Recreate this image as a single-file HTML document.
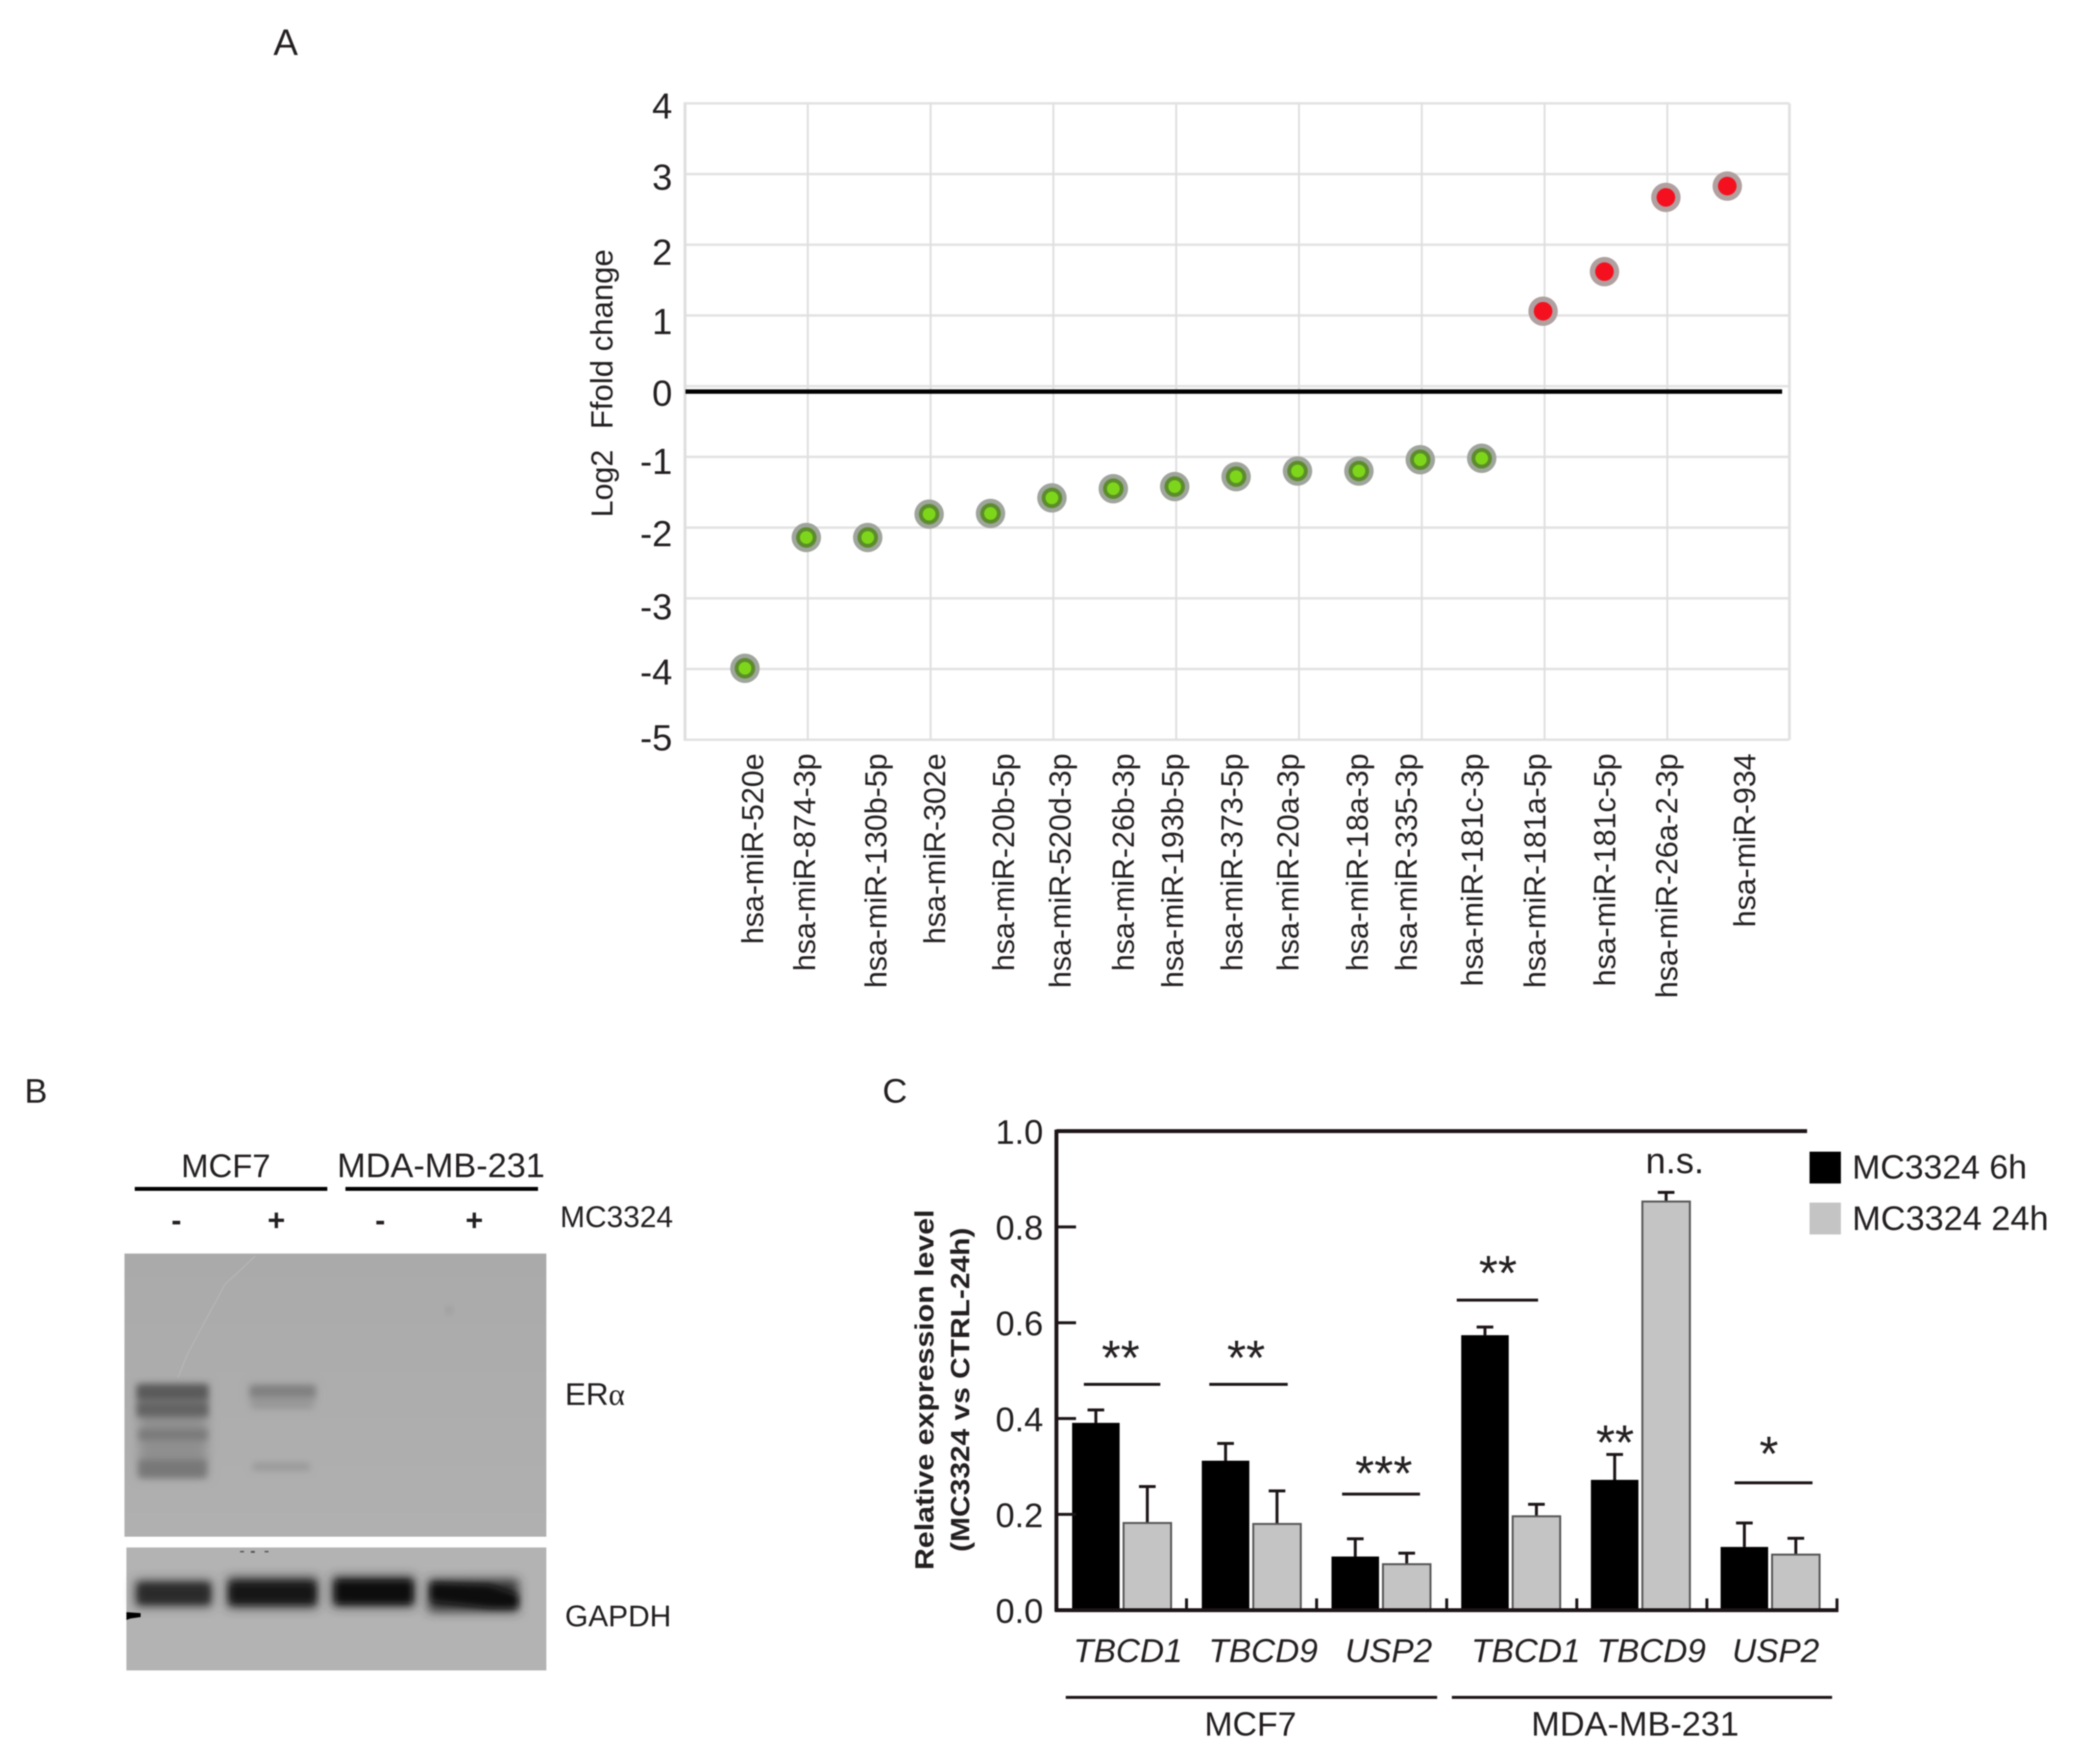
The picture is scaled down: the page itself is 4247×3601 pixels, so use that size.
<!DOCTYPE html>
<html lang="en">
<head>
<meta charset="utf-8">
<title>miRNA fold change, western blot and relative expression</title>
<style>
html,body{margin:0;padding:0;background:#fff;}
#figure{display:block;width:4247px;height:3601px;filter:blur(1.4px);}
text{font-family:"Liberation Sans",sans-serif;fill:#231f20;}
</style>
</head>
<body>
<svg id="figure" xmlns="http://www.w3.org/2000/svg" width="4247" height="3601" viewBox="0 0 4247 3601">
<defs>
<filter id="blur3" x="-20%" y="-80%" width="140%" height="260%"><feGaussianBlur stdDeviation="7"/></filter>
<filter id="blur6" x="-20%" y="-80%" width="140%" height="260%"><feGaussianBlur stdDeviation="11"/></filter>
<linearGradient id="blot-bg" x1="0" y1="0" x2="0" y2="1"><stop offset="0" stop-color="#aaaaaa"/><stop offset="1" stop-color="#b0b0b0"/></linearGradient>
</defs>

<text x="558" y="112" font-size="75">A</text>
<text x="50" y="2251" font-size="70">B</text>
<text x="1801" y="2251" font-size="70">C</text>

<g id="chart-a"></g>

<g id="panel-b">
  <text x="461" y="2403" font-size="67" text-anchor="middle">MCF7</text>
  <text x="900" y="2403" font-size="70" text-anchor="middle">MDA-MB-231</text>
  <rect x="275" y="2423" width="393" height="8" fill="#000"/>
  <rect x="705" y="2423" width="393" height="8" fill="#000"/>
  <text x="360" y="2512" font-size="62" font-weight="bold" text-anchor="middle">-</text>
  <text x="564" y="2512" font-size="62" font-weight="bold" text-anchor="middle">+</text>
  <text x="776" y="2512" font-size="62" font-weight="bold" text-anchor="middle">-</text>
  <text x="968" y="2512" font-size="62" font-weight="bold" text-anchor="middle">+</text>
  <text x="1143" y="2505" font-size="61">MC3324</text>

  <g>
    <rect x="254" y="2559" width="861" height="578" fill="url(#blot-bg)"/>
    <path d="M521 2564 L459 2622 L383 2763 L363 2813" fill="none" stroke="#b8b8b8" stroke-width="2"/>
    <g filter="url(#blur6)">
      <rect x="283" y="2826" width="140" height="190" fill="#868686" opacity=".75"/>
      <rect x="512" y="2828" width="130" height="44" fill="#979797" opacity=".7"/>
    </g>
    <g filter="url(#blur3)">
      <rect x="279" y="2826" width="146" height="32" fill="#5a5a5a"/>
      <rect x="279" y="2862" width="146" height="30" fill="#636363"/>
      <rect x="283" y="2918" width="140" height="22" fill="#7a7a7a"/>
      <rect x="283" y="2980" width="138" height="36" fill="#787878"/>
      <rect x="510" y="2828" width="134" height="24" fill="#808080"/>
      <rect x="514" y="2856" width="124" height="18" fill="#979797"/>
      <rect x="516" y="2986" width="116" height="16" fill="#999"/>
    </g>
    <circle cx="917" cy="2675" r="8" fill="#9c9c9c" filter="url(#blur3)"/>
  </g>
  <g>
    <rect x="258" y="3159" width="857" height="251" fill="#b3b3b3"/>
    <g filter="url(#blur6)">
      <rect x="276" y="3226" width="156" height="54" fill="#4a4a4a"/>
      <rect x="464" y="3220" width="184" height="62" fill="#363636"/>
      <rect x="678" y="3218" width="168" height="62" fill="#303030"/>
      <rect x="874" y="3224" width="184" height="66" fill="#303030"/>
    </g>
    <g filter="url(#blur3)">
      <rect x="283" y="3234" width="144" height="38" fill="#2a2a2a"/>
      <rect x="470" y="3232" width="172" height="40" fill="#181818"/>
      <rect x="686" y="3228" width="154" height="44" fill="#101010"/>
      <polygon points="880,3232 1000,3236 1056,3256 1056,3282 1000,3282 880,3268" fill="#101010"/>
    </g>
    <polygon points="258,3291 287,3293 287,3301 266,3304 258,3307" fill="#000"/>
    <g fill="#555">
      <rect x="490" y="3166" width="8" height="3"/><rect x="512" y="3166" width="8" height="4"/><rect x="540" y="3166" width="8" height="3"/>
    </g>
  </g>
  <text x="1153" y="2868" font-size="64">ER<tspan font-family="Liberation Serif, serif">α</tspan></text>
  <text x="1153" y="3320" font-size="61">GAPDH</text>
</g>

<g id="chart-c"></g>
</svg>

<script>
/* ---------- Chart A data ---------- */
const mirCategories = ["hsa-miR-520e","hsa-miR-874-3p","hsa-miR-130b-5p","hsa-miR-302e","hsa-miR-20b-5p","hsa-miR-520d-3p","hsa-miR-26b-3p","hsa-miR-193b-5p","hsa-miR-373-5p","hsa-miR-20a-3p","hsa-miR-18a-3p","hsa-miR-335-3p","hsa-miR-181c-3p","hsa-miR-181a-5p","hsa-miR-181c-5p","hsa-miR-26a-2-3p","hsa-miR-934"];
const log2FoldChange = [-3.99,-2.14,-2.14,-1.81,-1.80,-1.58,-1.45,-1.42,-1.28,-1.20,-1.20,-1.04,-1.02,1.06,1.62,2.67,2.83];
const foldTicks = [4,3,2,1,0,-1,-2,-3,-4,-5];

/* ---------- Chart C data ---------- */
const geneLabels = ["TBCD1","TBCD9","USP2","TBCD1","TBCD9","USP2"];
const expression6h = [0.391,0.312,0.112,0.574,0.272,0.132];
const expression24h = [0.182,0.180,0.096,0.196,0.853,0.116];
const error6h = [0.027,0.036,0.037,0.017,0.053,0.050];
const error24h = [0.076,0.069,0.023,0.025,0.019,0.034];
const expressionTicks = [0,0.2,0.4,0.6,0.8,1.0];

/* ---------- Layout only (hand-set label drift of the source figure) ---------- */
const catLabelNudge = [12,-7,13,8,23,13,17,-8,-12,-23,-7,-32,-23,-20,-3,-2,32];
const foldLabelNudge = [5,6,15,12,14,9,12,17,6,-4];
const geneLabelCentres = [2300,2576,2832,3112,3368,3622];

const NS = "http://www.w3.org/2000/svg";
function mk(tag, attrs, parent, txt){
  const el = document.createElementNS(NS, tag);
  for (const k in attrs) el.setAttribute(k, attrs[k]);
  if (txt !== undefined) el.textContent = txt;
  parent.appendChild(el);
  return el;
}

/* ---------- Chart A ---------- */
(function(){
  const g = document.getElementById("chart-a");
  const L = 1395, R = 3652, T = 211, B = 1510, step = 125.3;
  const y = v => T + (4 - v) * (B - T) / 9;
  const x = i => L + (i + 1) * step;

  foldTicks.forEach(function(t){
    const ln = mk("line",{x1:L,x2:R,y1:y(t),y2:y(t),stroke:"#e2e2e2","stroke-width":5},g);
    
    
  });
  for (let i = -1; i < mirCategories.length; i += 2){
    const ln = mk("line",{x1:x(i)+3,x2:x(i)+3,y1:T,y2:B,stroke:"#dfdfdf","stroke-width":i===-1?6:4},g);
    
    
  }
  const right = mk("line",{x1:R,x2:R,y1:T,y2:B,stroke:"#e2e2e2","stroke-width":6},g);
  
  

  const zero = mk("line",{x1:1399,x2:3637,y1:y(0)+11,y2:y(0)+11,stroke:"#000","stroke-width":9},g);
  
  

  foldTicks.forEach(function(t,i){
    const lab = mk("text",{x:1372,y:y(t)+foldLabelNudge[i]+26,"font-size":74,"text-anchor":"end"},g,String(t));
    
    
  });

  const log2 = mk("text",{transform:"translate(1250,1056) rotate(-90)","font-size":62},g,"Log2");
  
  
  const ffold = mk("text",{transform:"translate(1250,876) rotate(-90)","font-size":63.5},g,"Ffold change");
  
  

  mirCategories.forEach(function(c,i){
    const px = x(i) + catLabelNudge[i] + 25;
    const lab = mk("text",{transform:"translate("+px+",1538) rotate(-90)","font-size":62,"text-anchor":"end"},g,c);
    
    
  });

  log2FoldChange.forEach(function(v,i){
    const up = v > 0;
    const pt = mk("g",{},g);
    
    
    mk("circle",{cx:x(i),cy:y(v),r:30,fill:up?"#b0a0a0":"#9fa59c"},pt);
    if (up){
      mk("circle",{cx:x(i),cy:y(v),r:19,fill:"#f5101f"},pt);
    } else {
      mk("circle",{cx:x(i),cy:y(v),r:21,fill:"#5c8c2c"},pt);
      mk("circle",{cx:x(i),cy:y(v),r:13,fill:"#7ed61a"},pt);
    }
  });
})();

/* ---------- Chart C ---------- */
(function(){
  const g = document.getElementById("chart-c");
  const axisX = 2156, endX = 3749, y0 = 3287, y1 = 2309;
  const groupStart = i => 2188 + i * 264.7;
  const y = v => y0 - v * (y0 - y1);
  const barW = 97, ink = "#1c1416";

  drawBars(expression6h, error6h, 0, "#000", "#000", "bar-6h");
  drawBars(expression24h, error24h, 105, "#c4c4c4", "#555", "bar-24h");

  function drawBars(vals, errs, off, fill, edge, name){
    vals.forEach(function(v,i){
      const cx = groupStart(i) + off + barW/2;
      const err = mk("path",{d:"M"+cx+" "+y(v)+"V"+y(v+errs[i])+"M"+(cx-17)+" "+y(v+errs[i])+"H"+(cx+17),stroke:ink,"stroke-width":6,fill:"none"},g);
      
      
      const b = mk("rect",{x:groupStart(i)+off,y:y(v),width:barW,height:y(0)-y(v),fill:fill,stroke:edge,"stroke-width":edge==="#000"?0:4},g);
      
      
    });
  }

  const yAxis = mk("line",{x1:axisX,x2:axisX,y1:y1-3,y2:y0+3,stroke:ink,"stroke-width":8},g);
  
  
  const xAxis = mk("line",{x1:axisX-3,x2:endX+3,y1:y0,y2:y0,stroke:ink,"stroke-width":8},g);
  
  
  const top = mk("line",{x1:2156,x2:3688,y1:y1,y2:y1,stroke:ink,"stroke-width":8},g);
  
  

  expressionTicks.forEach(function(t){
    const tk = mk("line",{x1:axisX,x2:axisX+40,y1:y(t),y2:y(t),stroke:ink,"stroke-width":6},g);
    
    
    const lab = mk("text",{x:2129,y:y(t)+26,"font-size":70,"text-anchor":"end"},g,t.toFixed(1));
    
    
  });
  for (let i = 1; i <= 6; i++){
    const px = axisX + i * 265.5;
    const tk = mk("line",{x1:px,x2:px,y1:y0-24,y2:y0,stroke:ink,"stroke-width":6},g);
    
    
  }

  geneLabels.forEach(function(c,i){
    const lab = mk("text",{x:geneLabelCentres[i]+2,y:3393,"font-size":68,"font-style":"italic","text-anchor":"middle"},g,c);
    
    
  });

  const l1 = mk("line",{x1:2175,x2:2933,y1:3465,y2:3465,stroke:ink,"stroke-width":6},g);
  
  
  const l2 = mk("line",{x1:2963,x2:3739,y1:3465,y2:3465,stroke:ink,"stroke-width":6},g);
  
  
  const t1 = mk("text",{x:2552,y:3543,"font-size":69,"text-anchor":"middle"},g,"MCF7");
  
  
  const t2 = mk("text",{x:3337,y:3543,"font-size":70,"text-anchor":"middle"},g,"MDA-MB-231");
  
  

  const yt1 = mk("text",{transform:"translate(1905,2837) rotate(-90)","font-size":54,"font-weight":"bold","text-anchor":"middle",textLength:736,lengthAdjust:"spacingAndGlyphs"},g,"Relative expression level");
  
  
  const yt2 = mk("text",{transform:"translate(1978,2837) rotate(-90)","font-size":54,"font-weight":"bold","text-anchor":"middle",textLength:662,lengthAdjust:"spacingAndGlyphs"},g,"(MC3324 vs CTRL-24h)");
  
  

  /* significance marks */
  [[2212,2368,2826],[2468,2628,2826],[2739,2898,3050],[2973,3139,2654],[3540,3699,3027]].forEach(function(s){
    const ln = mk("line",{x1:s[0],x2:s[1],y1:s[2],y2:s[2],stroke:ink,"stroke-width":6},g);
    
    
  });
  [["**",2287,2806],["**",2543,2806],["***",2824,3042],["**",3057,2633],["**",3296,2979],["*",3610,3002]].forEach(function(s){
    const st = mk("text",{x:s[1],y:s[2],"font-size":100,"text-anchor":"middle"},g,s[0]);
    
    
  });
  const ns = mk("text",{x:3418,y:2395,"font-size":74,"text-anchor":"middle"},g,"n.s.");
  
  

  /* legend */
  const k1 = mk("rect",{x:3693,y:2351,width:64,height:65,fill:"#000"},g);
  
  
  const k2 = mk("rect",{x:3693,y:2455,width:64,height:65,fill:"#c4c4c4"},g);
  
  
  const e1 = mk("text",{x:3780,y:2406,"font-size":69},g,"MC3324 6h");
  
  
  const e2 = mk("text",{x:3780,y:2511,"font-size":70},g,"MC3324 24h");
  
  
})();
</script>
</body>
</html>
